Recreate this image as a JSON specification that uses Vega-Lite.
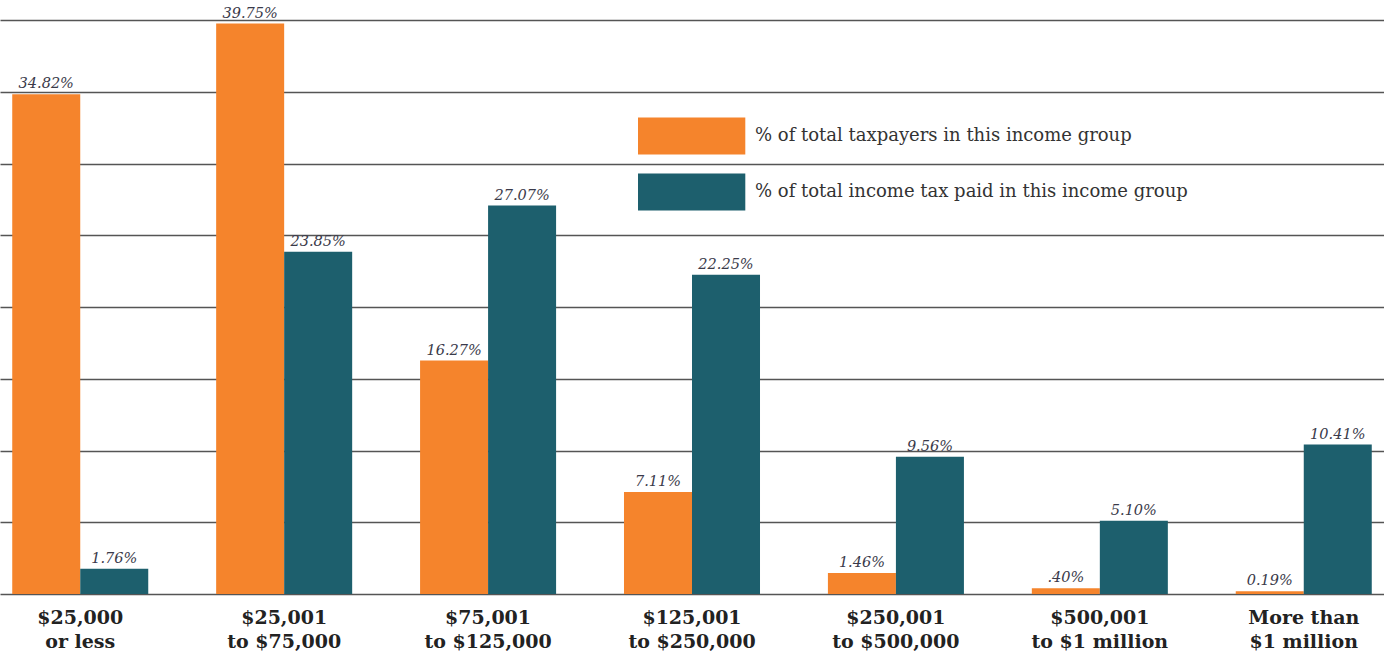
{
  "$schema": "https://vega.github.io/schema/vega-lite/v6.json",
  "width": 1384,
  "height": 574,
  "autosize": {"type": "none"},
  "padding": {"top": 20, "left": 0, "right": 0, "bottom": 62},
  "background": "white",
  "config": {"view": {"stroke": null}},
  "data": {"values": [
    {"group": "$25,000|or less", "series": "% of total taxpayers in this income group", "value": 34.82, "label": "34.82%"},
    {"group": "$25,000|or less", "series": "% of total income tax paid in this income group", "value": 1.76, "label": "1.76%"},
    {"group": "$25,001|to $75,000", "series": "% of total taxpayers in this income group", "value": 39.75, "label": "39.75%"},
    {"group": "$25,001|to $75,000", "series": "% of total income tax paid in this income group", "value": 23.85, "label": "23.85%"},
    {"group": "$75,001|to $125,000", "series": "% of total taxpayers in this income group", "value": 16.27, "label": "16.27%"},
    {"group": "$75,001|to $125,000", "series": "% of total income tax paid in this income group", "value": 27.07, "label": "27.07%"},
    {"group": "$125,001|to $250,000", "series": "% of total taxpayers in this income group", "value": 7.11, "label": "7.11%"},
    {"group": "$125,001|to $250,000", "series": "% of total income tax paid in this income group", "value": 22.25, "label": "22.25%"},
    {"group": "$250,001|to $500,000", "series": "% of total taxpayers in this income group", "value": 1.46, "label": "1.46%"},
    {"group": "$250,001|to $500,000", "series": "% of total income tax paid in this income group", "value": 9.56, "label": "9.56%"},
    {"group": "$500,001|to $1 million", "series": "% of total taxpayers in this income group", "value": 0.40, "label": ".40%"},
    {"group": "$500,001|to $1 million", "series": "% of total income tax paid in this income group", "value": 5.10, "label": "5.10%"},
    {"group": "More than|$1 million", "series": "% of total taxpayers in this income group", "value": 0.19, "label": "0.19%"},
    {"group": "More than|$1 million", "series": "% of total income tax paid in this income group", "value": 10.41, "label": "10.41%"}
  ]},
  "encoding": {
    "x": {
      "field": "group", "type": "nominal", "sort": null,
      "scale": {"paddingInner": 0.333, "paddingOuter": 0.06},
      "axis": {
        "title": null, "labelAngle": 0, "ticks": false, "domain": false,
        "labelExpr": "split(datum.label, '|')",
        "labelFont": "DejaVu Serif", "labelFontWeight": "bold", "labelFontSize": 19,
        "labelColor": "#222", "labelPadding": 14, "labelLineHeight": 24
      }
    },
    "xOffset": {
      "field": "series", "type": "nominal",
      "sort": ["% of total taxpayers in this income group", "% of total income tax paid in this income group"]
    },
    "y": {
      "field": "value", "type": "quantitative",
      "scale": {"domain": [0, 40], "nice": false},
      "axis": {
        "title": null, "labels": false, "ticks": false, "domain": false,
        "values": [0, 5, 10, 15, 20, 25, 30, 35, 40],
        "grid": true, "gridColor": "#555", "gridWidth": 1.5
      }
    }
  },
  "layer": [
    {
      "mark": {"type": "bar"},
      "encoding": {
        "color": {
          "field": "series", "type": "nominal",
          "sort": ["% of total taxpayers in this income group", "% of total income tax paid in this income group"],
          "scale": {"range": ["#F5842C", "#1D5F6D"]},
          "legend": {
            "title": null, "orient": "none", "legendX": 638, "legendY": 79,
            "padding": 0,
            "symbolType": "M-1,-0.5H1.9V0.5H-1Z",
            "symbolSize": 5476, "symbolStrokeWidth": 0, "symbolOpacity": 1,
            "labelOffset": 43, "rowPadding": -2,
            "labelFont": "DejaVu Serif", "labelFontSize": 18, "labelColor": "#333",
            "labelLimit": 700
          }
        }
      }
    },
    {
      "mark": {"type": "text", "dy": -10, "font": "DejaVu Serif", "fontStyle": "italic", "fontSize": 14.5, "color": "#3a3a4a"},
      "encoding": {"text": {"field": "label"}}
    }
  ]
}
